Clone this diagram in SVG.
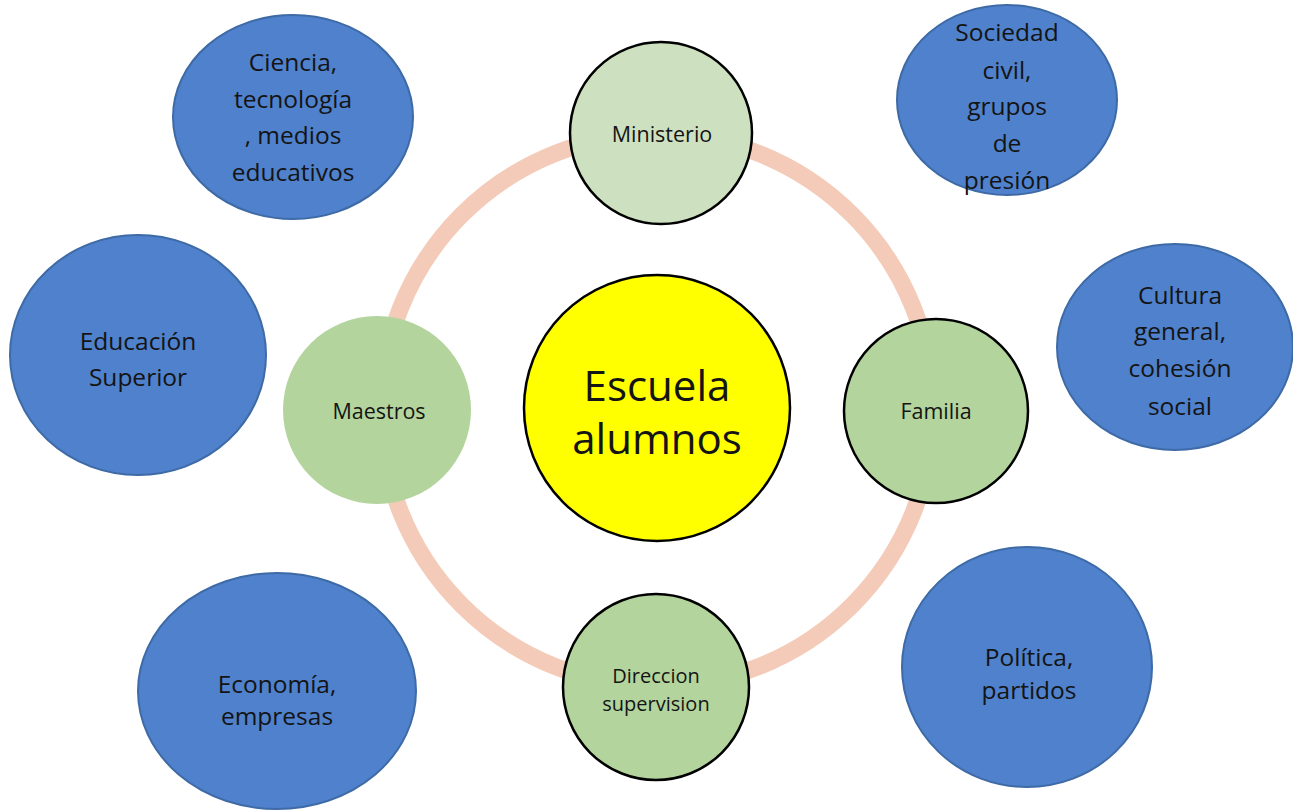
<svg xmlns="http://www.w3.org/2000/svg" width="1293" height="812" viewBox="0 0 1293 812">
<style>
.blue{fill:#4F81CC;stroke:#3E6AA6;stroke-width:2}
.g{fill:#B3D49D}
.s{stroke:#000;stroke-width:2.5}
.t{font-family:"Open Sans","Liberation Sans",sans-serif;fill:#141414;text-anchor:middle}
.b{font-size:24.5px}
.m{font-size:21.5px}
</style>
<rect width="1293" height="812" fill="#fff"/>
<g id="connectors">
<circle cx="657" cy="410" r="276" fill="none" stroke="#F4CBB8" stroke-width="17"/>
</g>
<g id="ciencia"><ellipse class="blue" cx="293" cy="117" rx="120" ry="102"/>
<text class="t b"><tspan x="293" y="71">Ciencia,</tspan><tspan x="293" y="108">tecnología</tspan><tspan x="293" y="144">, medios</tspan><tspan x="293" y="181">educativos</tspan></text></g>
<g id="sociedad"><ellipse class="blue" cx="1007" cy="100" rx="110" ry="95"/>
<text class="t b"><tspan x="1007" y="41">Sociedad</tspan><tspan x="1007" y="79">civil,</tspan><tspan x="1007" y="115">grupos</tspan><tspan x="1007" y="152">de</tspan><tspan x="1007" y="189">presión</tspan></text></g>
<g id="educacion"><ellipse class="blue" cx="138" cy="355" rx="128" ry="120"/>
<text class="t b"><tspan x="138" y="350">Educación</tspan><tspan x="138" y="386">Superior</tspan></text></g>
<g id="cultura"><ellipse class="blue" cx="1175" cy="347" rx="118" ry="103"/>
<text class="t b"><tspan x="1180" y="304">Cultura</tspan><tspan x="1180" y="340">general,</tspan><tspan x="1180" y="377">cohesión</tspan><tspan x="1180" y="415">social</tspan></text></g>
<g id="economia"><ellipse class="blue" cx="277" cy="691" rx="139" ry="118"/>
<text class="t b"><tspan x="277" y="693">Economía,</tspan><tspan x="277" y="725">empresas</tspan></text></g>
<g id="politica"><ellipse class="blue" cx="1027" cy="667" rx="125" ry="120"/>
<text class="t b"><tspan x="1029" y="666">Política,</tspan><tspan x="1029" y="699">partidos</tspan></text></g>
<g id="ministerio"><circle cx="661" cy="133" r="91" fill="#CDE1C1" class="s"/>
<text class="t m" x="662" y="142">Ministerio</text></g>
<g id="maestros"><circle class="g" cx="377" cy="410" r="94"/>
<text class="t m" x="379" y="419">Maestros</text></g>
<g id="familia"><circle class="g s" cx="936" cy="411" r="92"/>
<text class="t m" x="936" y="419">Familia</text></g>
<g id="direccion"><circle class="g s" cx="656" cy="687" r="93"/>
<text class="t" style="font-size:20px"><tspan x="656" y="683">Direccion</tspan><tspan x="656" y="711">supervision</tspan></text></g>
<g id="escuela"><circle cx="657" cy="408" r="133" fill="#FFFF00" class="s"/>
<text class="t" style="font-size:42px"><tspan x="657" y="401">Escuela</tspan><tspan x="657" y="454">alumnos</tspan></text></g>
</svg>
